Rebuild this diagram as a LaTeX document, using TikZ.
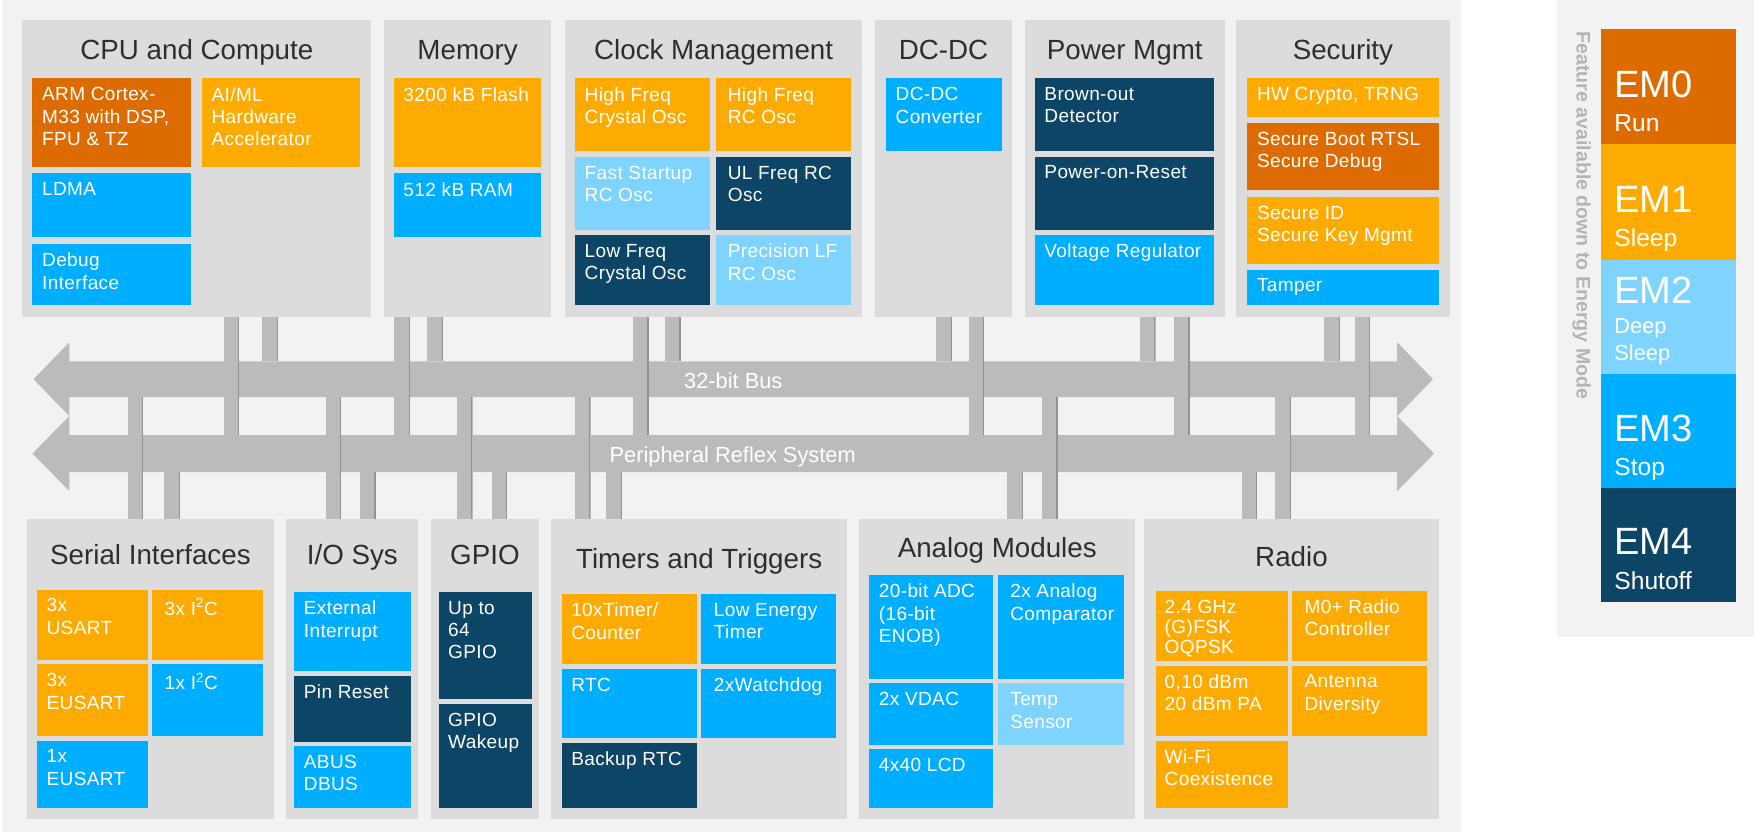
\documentclass[tikz,border=0pt]{standalone}
\usepackage{fontspec}
\setmainfont{Liberation Sans}
\newfontfamily\lblfont[LetterSpace=2]{Liberation Sans}
\definecolor{bgl}{HTML}{F2F2F2}
\definecolor{boxg}{HTML}{DCDCDC}
\definecolor{busg}{HTML}{BBBBBB}
\definecolor{bare}{HTML}{939393}
\definecolor{cdor}{HTML}{DD6B00}
\definecolor{cor}{HTML}{FDAB00}
\definecolor{clb}{HTML}{7FD4FF}
\definecolor{cbl}{HTML}{00AEFF}
\definecolor{cnv}{HTML}{0D4567}
\definecolor{ttl}{HTML}{2E2E2E}
\definecolor{lgt}{HTML}{B4B4B4}
\newcommand\grpbox[7]{%
  \node[grp,minimum width=#4pt,minimum height=#5pt] (#1) at (#2,#3) {};
  \node[ttlst] (#1-t) at ({#2+#4/2},{#3+#7}) {#6};}
\newcommand\subbk[8]{%
  \node[subbox,fill=#6,minimum width=#4pt,minimum height=#5pt] (#1) at (#2,#3) {};
  \node[lbl] (#1-l) at ({#2+#7},{#3+8}) {#8};}
\newcommand\cnbar[3]{%
  \pgfmathsetmacro\cnx{#1+6.3}%
  \draw[barst] (#2 -| #1,0) -- (#3 -| #1,0);
  \draw[baredge] (#2 -| \cnx,0) -- (#3 -| \cnx,0);}
\begin{document}
\begin{tikzpicture}[x=1pt,y=-1pt,
  grp/.style={fill=boxg,draw=none,anchor=north west,inner sep=0pt,outer sep=0pt},
  subbox/.style={draw=none,anchor=north west,inner sep=0pt,outer sep=0pt},
  ttlst/.style={font=\fontsize{24.8}{28}\selectfont,text=ttl,anchor=base,inner sep=0pt},
  lbl/.style={font=\lblfont\fontsize{17}{20}\selectfont,text=white,align=left,anchor=north west,inner sep=0pt},
  barst/.style={draw=busg,line width=14pt},
  baredge/.style={draw=bare,line width=1.1pt},
  busst/.style={fill=busg,draw=none},
  buslbl/.style={font=\fontsize{19.5}{22}\selectfont,text=white,anchor=base,inner sep=0pt},
  emnum/.style={font=\fontsize{34}{36}\selectfont,text=white,anchor=base west,inner sep=0pt},
  emtxt/.style={font=\fontsize{22}{24}\selectfont,text=white,anchor=base west,inner sep=0pt},
  emsm/.style={font=\fontsize{19.5}{22}\selectfont,text=white,anchor=base west,inner sep=0pt},
]
\useasboundingbox (0,0) rectangle (1568,746);
\fill[white] (0,0) rectangle (1568,746);
\fill[bgl] (1.5,0) rectangle (1306,744);
\fill[bgl] (1392,0) rectangle (1568,569);

% ---------- top row ----------
\grpbox{cpu}{20}{18}{312}{265}{CPU and Compute}{35}
\subbk{arm}{29}{70}{142}{79}{cdor}{8.5}{ARM Cortex-\\M33 with DSP,\\FPU \& TZ}
\subbk{aiml}{181}{70}{141}{79}{cor}{8}{AI/ML\\Hardware\\Accelerator}
\subbk{ldma}{29}{155}{142}{57}{cbl}{8.5}{LDMA}
\subbk{dbg}{29}{218}{142}{55}{cbl}{8.5}{Debug\\Interface}

\grpbox{mem}{343}{18}{150}{265}{Memory}{35}
\subbk{flash}{352}{70}{132}{79}{cor}{8.5}{3200 kB Flash}
\subbk{ram}{352}{155}{132}{57}{cbl}{8.5}{512 kB RAM}

\grpbox{clk}{505}{18}{266}{265}{Clock Management}{35}
\subbk{hfxo}{514}{70}{121}{65}{cor}{8.5}{High Freq\\Crystal Osc}
\subbk{hfrco}{640}{70}{121}{65}{cor}{10.5}{High Freq\\RC Osc}
\subbk{fsrco}{514}{140}{121}{66}{clb}{8.5}{Fast Startup\\RC Osc}
\subbk{ulfrco}{640}{140}{121}{66}{cnv}{10.5}{UL Freq RC\\Osc}
\subbk{lfxo}{514}{210}{121}{63}{cnv}{8.5}{Low Freq\\Crystal Osc}
\subbk{lfrco}{640}{210}{121}{63}{clb}{10.5}{Precision LF\\RC Osc}

\grpbox{dcdc}{782}{18}{123}{265}{DC-DC}{35}
\subbk{conv}{792}{70}{104}{65}{cbl}{8.5}{DC-DC\\Converter}

\grpbox{pwr}{916}{18}{179}{265}{Power Mgmt}{35}
\subbk{bod}{925}{70}{160}{65}{cnv}{8.5}{Brown-out\\Detector}
\subbk{por}{925}{140}{160}{66}{cnv}{8.5}{Power-on-Reset}
\subbk{vreg}{925}{210}{160}{63}{cbl}{8.5}{Voltage Regulator}

\grpbox{sec}{1105}{18}{191}{265}{Security}{35}
\subbk{crypto}{1115}{70}{171}{35}{cor}{8.5}{HW Crypto, TRNG}
\subbk{sboot}{1115}{110}{171}{60}{cdor}{8.5}{Secure Boot RTSL\\Secure Debug}
\subbk{sid}{1115}{176}{171}{60}{cor}{8.5}{Secure ID\\Secure Key Mgmt}
\subbk{tamper}{1115}{241}{171}{32}{cbl}{8.5}{Tamper}

% ---------- bottom row ----------
\grpbox{ser}{24}{464}{221}{268}{Serial Interfaces}{41}
\subbk{usart3}{33}{527}{99}{63}{cor}{8.5}{3x\\USART}
\subbk{i2c3}{136}{527}{99}{63}{cor}{11}{3x I\textsuperscript{2}C}
\subbk{eusart3}{33}{594}{99}{64}{cor}{8.5}{3x\\EUSART}
\subbk{i2c1}{136}{594}{99}{64}{cbl}{11}{1x I\textsuperscript{2}C}
\subbk{eusart1}{33}{662}{99}{60}{cbl}{8.5}{1x\\EUSART}

\grpbox{io}{256}{464}{118}{268}{I/O Sys}{41}
\subbk{extint}{263}{529}{104}{71}{cbl}{8.5}{External\\Interrupt}
\subbk{pinrst}{263}{604}{104}{59}{cnv}{8.5}{Pin Reset}
\subbk{abus}{263}{667}{104}{55}{cbl}{8.5}{ABUS\\DBUS}

\grpbox{gpio}{385}{464}{97}{268}{GPIO}{41}
\subbk{gpio64}{392}{529}{84}{96}{cnv}{8.5}{Up to\\64\\GPIO}
\subbk{gpiowk}{392}{629}{84}{93}{cnv}{8.5}{GPIO\\Wakeup}

\grpbox{tmr}{493}{464}{264}{268}{Timers and Triggers}{44}
\subbk{timer}{502}{531}{121}{63}{cor}{8.5}{10xTimer/\\Counter}
\subbk{letimer}{627}{531}{120}{63}{cbl}{11}{Low Energy\\Timer}
\subbk{rtc}{502}{598}{121}{62}{cbl}{8.5}{RTC}
\subbk{wdog}{627}{598}{120}{62}{cbl}{11}{2xWatchdog}
\subbk{brtc}{502}{664}{121}{58}{cnv}{8.5}{Backup RTC}

\grpbox{ana}{768}{464}{247}{268}{Analog Modules}{34}
\subbk{adc}{777}{514}{111}{93}{cbl}{8.5}{20-bit ADC\\(16-bit\\ENOB)}
\subbk{acmp}{892}{514}{113}{93}{cbl}{11}{2x Analog\\Comparator}
\subbk{vdac}{777}{611}{111}{55}{cbl}{8.5}{2x VDAC}
\subbk{temp}{892}{611}{113}{55}{clb}{11}{Temp\\Sensor}
\subbk{lcd}{777}{670}{111}{52}{cbl}{8.5}{4x40 LCD}

\grpbox{rad}{1023}{464}{263}{268}{Radio}{42}
\subbk{fsk}{1033}{528}{118}{63}{cor}{8}{2.4 GHz\\[-2pt](G)FSK\\[-2pt]OQPSK}
\subbk{m0}{1155}{528}{121}{63}{cor}{11}{M0+ Radio\\Controller}
\subbk{pa}{1033}{595}{118}{63}{cor}{8}{0,10 dBm\\20 dBm PA}
\subbk{ant}{1155}{595}{121}{63}{cor}{11}{Antenna\\Diversity}
\subbk{wifi}{1033}{662}{118}{60}{cor}{8}{Wi-Fi\\Coexistence}

% ---------- buses ----------
\fill[busst] (30,339) -- (62,306) -- (62,323) -- (1249,323) -- (1249,306) -- (1281,339)
  -- (1249,372) -- (1249,355) -- (62,355) -- (62,372) -- cycle;
\fill[busst] (29,405.5) -- (62,372) -- (62,389) -- (1249,389) -- (1249,372) -- (1282,405.5)
  -- (1249,439) -- (1249,422) -- (62,422) -- (62,439) -- cycle;
\coordinate (b32t) at (62,323);
\coordinate (b32b) at (62,355);
\coordinate (prst) at (62,389);
\coordinate (prsb) at (62,422);

\cnbar{207}{cpu.south}{prst}
\cnbar{241.5}{cpu.south}{b32t}
\cnbar{359.5}{mem.south}{prst}
\cnbar{389}{mem.south}{b32t}
\cnbar{573}{clk.south}{prst}
\cnbar{601.5}{clk.south}{b32t}
\cnbar{844}{dcdc.south}{b32t}
\cnbar{873}{dcdc.south}{prst}
\cnbar{1026}{pwr.south}{b32t}
\cnbar{1056.5}{pwr.south}{prst}
\cnbar{1191}{sec.south}{b32t}
\cnbar{1218}{sec.south}{prst}
\cnbar{121}{ser.north}{b32b}
\cnbar{154}{ser.north}{prsb}
\cnbar{298}{io.north}{b32b}
\cnbar{329}{io.north}{prsb}
\cnbar{415.5}{gpio.north}{b32b}
\cnbar{446.5}{gpio.north}{prsb}
\cnbar{521}{tmr.north}{b32b}
\cnbar{549}{tmr.north}{prsb}
\cnbar{907.5}{ana.north}{prsb}
\cnbar{938.5}{ana.north}{b32b}
\cnbar{1117}{rad.north}{prsb}
\cnbar{1147}{rad.north}{b32b}

\node[buslbl] (bus32) at (655.5,347) {32-bit Bus};
\node[buslbl] (prs) at (655,413.5) {Peripheral Reflex System};

% ---------- legend ----------
\node[subbox,fill=cdor,minimum width=121pt,minimum height=103pt] (em0) at (1431,26) {};
\node[subbox,fill=cor,minimum width=121pt,minimum height=103pt] (em1) at (1431,129) {};
\node[subbox,fill=clb,minimum width=121pt,minimum height=102pt] (em2) at (1431,232) {};
\node[subbox,fill=cbl,minimum width=121pt,minimum height=102pt] (em3) at (1431,334) {};
\node[subbox,fill=cnv,minimum width=121pt,minimum height=102pt] (em4) at (1431,436) {};
\node[emnum] (em0n) at (1443,87) {EM0};
\node[emtxt] (em0t) at (1443,118) {Run};
\node[emnum] (em1n) at (1443,190) {EM1};
\node[emtxt] (em1t) at (1443,220) {Sleep};
\node[emnum] (em2n) at (1443,271) {EM2};
\node[emsm] (em2t) at (1443,298) {Deep};
\node[emsm] (em2u) at (1443,322.5) {Sleep};
\node[emnum] (em3n) at (1443,395) {EM3};
\node[emtxt] (em3t) at (1443,425) {Stop};
\node[emnum] (em4n) at (1443,496) {EM4};
\node[emtxt] (em4t) at (1443,527) {Shutoff};
\node[font=\bfseries\fontsize{17.5}{20}\selectfont,text=lgt,rotate=-90,anchor=west,inner sep=0pt] (feat) at (1414,28) {Feature available down to Energy Mode};
\end{tikzpicture}
\end{document}
